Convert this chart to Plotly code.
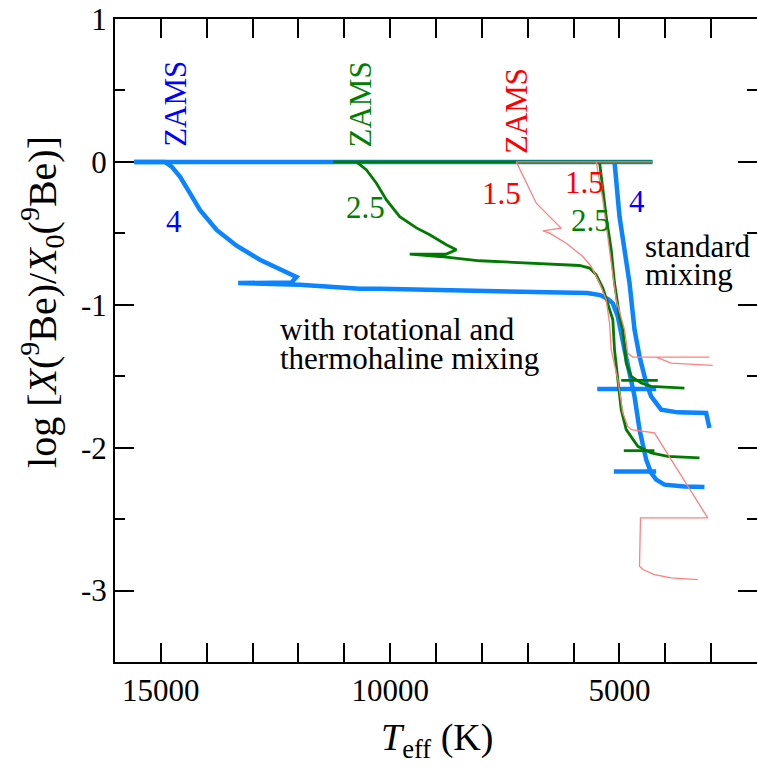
import plotly.graph_objects as go

# ---------------- data (Teff in K, log X/X0) ----------------
# 4 Msun, rotational + thermohaline mixing
b4r_T = [15580, 14911, 14765, 14584, 14366, 14148, 13784, 13349, 12841, 12405, 12042, 12150,
         13314, 11970, 10662, 10227, 8048, 5700, 5420, 5250, 5144, 5035, 4889, 4780, 4671,
         4562, 4490, 4416, 4308, 4199, 4018, 3582, 3146]
b4r_L = [0, 0, -0.033, -0.103, -0.219, -0.336, -0.476, -0.587, -0.685, -0.755, -0.806, -0.844,
         -0.848, -0.860, -0.888, -0.888, -0.900, -0.918, -0.932, -0.960, -0.990, -1.082, -1.315,
         -1.490, -1.641, -1.874, -1.965, -2.084, -2.177, -2.224, -2.259, -2.271, -2.275]
b4r_loop_T = [5122, 4199]
b4r_loop_L = [-2.166, -2.166]

# 4 Msun, standard mixing
b4s_T = [15580, 4279, 5107, 4998, 4780, 4671, 4562, 4416, 4308, 4090, 3728, 3109, 3037]
b4s_L = [0, 0, 0, -0.383, -0.848, -1.175, -1.362, -1.548, -1.641, -1.734, -1.753, -1.757, -1.862]
b4s_loop_T = [5484, 4199]
b4s_loop_L = [-1.590, -1.590]

# 2.5 Msun, rotational + thermohaline mixing
g25r_T = [10734, 10516, 10299, 10081, 9791, 9427, 9137, 8774, 8556, 8774, 9573, 8920, 8048,
          6959, 5870, 5652, 5506, 5362, 5216, 5144, 5107, 5035, 4961, 4852, 4708, 4599, 4308,
          3946, 3255]
g25r_L = [0, -0.056, -0.149, -0.266, -0.383, -0.462, -0.510, -0.580, -0.615, -0.645, -0.645,
          -0.662, -0.692, -0.708, -0.725, -0.743, -0.790, -0.883, -1.023, -1.105, -1.315, -1.524,
          -1.734, -1.874, -1.944, -1.991, -2.037, -2.061, -2.072]
g25r_loop_T = [4904, 4236]
g25r_loop_L = [-2.021, -2.021]

# 2.5 Msun, standard mixing
g25s_T = [11244, 4279, 5434, 5288, 5179, 5107, 4998, 4926, 4852, 4743, 4525, 4308, 3582]
g25s_L = [0, 0, 0, -0.383, -0.615, -0.848, -1.082, -1.175, -1.408, -1.501, -1.548, -1.571, -1.583]
g25s_loop_T = [4961, 4164]
g25s_loop_L = [-1.529, -1.529]

# 1.5 Msun, rotational + thermohaline mixing
r15r_T = [7249, 7031, 6813, 6523, 6268, 6669, 6523, 6159, 5798, 5615, 5434, 5288, 5216, 5179,
          5035, 4926, 4817, 4743, 4236, 3074, 4541, 4562, 4490, 4236, 3872, 3292]
r15r_L = [0, -0.149, -0.289, -0.383, -0.464, -0.483, -0.499, -0.569, -0.662, -0.732, -0.848,
          -0.965, -1.128, -1.315, -1.524, -1.757, -1.851, -1.874, -1.897, -2.492, -2.492, -2.830,
          -2.853, -2.888, -2.911, -2.923]

# 1.5 Msun, standard mixing
r15s_T = [7249, 4279, 5506, 5362, 5216, 5070, 4889, 4817, 4715, 3037, 4199, 3872, 2966]
r15s_L = [0, 0, 0, -0.266, -0.615, -0.965, -1.175, -1.338, -1.366, -1.366, -1.366, -1.408, -1.424]

x_range = [16000, 2000]
x_ticks = [15000, 10000, 5000]
x_ticktext = ["15000", "10000", "5000"]
y_range = [-3.5, 1]
y_ticks = [-3, -2, -1, 0, 1]
y_ticktext = ["-3", "-2", "-1", "0", "1"]
y_minor = [-3.5, -2.5, -1.5, -0.5, 0.5]

BLUE = "#0a84ff"
GREEN = "#007a00"
PINK = "#ff8080"
FONT = "Liberation Serif, Times New Roman, serif"

fig = go.Figure()


def add(xs, ys, color, width):
    fig.add_trace(go.Scatter(x=xs, y=ys, mode="lines",
                             line=dict(color=color, width=width),
                             showlegend=False, hoverinfo="skip"))


add(b4s_T, b4s_L, BLUE, 4.5)
add(b4s_loop_T, b4s_loop_L, BLUE, 4.5)
add(b4r_T, b4r_L, BLUE, 4.5)
add(b4r_loop_T, b4r_loop_L, BLUE, 4.5)
add(g25s_T, g25s_L, GREEN, 2.8)
add(g25s_loop_T, g25s_loop_L, GREEN, 2.8)
add(g25r_T, g25r_L, GREEN, 2.8)
add(g25r_loop_T, g25r_loop_L, GREEN, 2.8)
add(r15s_T, r15s_L, PINK, 1.3)
add(r15r_T, r15r_L, PINK, 1.3)

# dummy trace for right-hand tick axis
fig.add_trace(go.Scatter(x=[None], y=[None], yaxis="y2", showlegend=False, hoverinfo="skip"))

# ---------------- annotations ----------------
def note(text, x, y, color, size=31, angle=0, xanchor="center"):
    fig.add_annotation(text=text, x=x, y=y, xref="x", yref="y", showarrow=False,
                       textangle=angle, xanchor=xanchor, yanchor="middle",
                       font=dict(family=FONT, size=size, color=color))


note("ZAMS", 14671, 0.406, "#0000ff", angle=-90)
note("ZAMS", 10645, 0.399, "#008000", angle=-90)
note("ZAMS", 7249, 0.358, "#ff0000", angle=-90)
note("4", 14710, -0.417, "#0000ff")
note("2.5", 10536, -0.317, "#008000")
note("1.5", 7562, -0.224, "#ff0000")
note("1.5", 5761, -0.142, "#ff0000")
note("2.5", 5636, -0.410, "#008000")
note("4", 4621, -0.278, "#0000ff")
note("standard", 4490, -0.595, "black", xanchor="left")
note("mixing", 4490, -0.785, "black", xanchor="left")
note("with rotational and", 12449, -1.175, "black", xanchor="left")
note("thermohaline mixing", 12449, -1.378, "black", xanchor="left")

fig.add_annotation(text="log [<i>X</i>(<sup>9</sup>Be)/<i>X</i><sub>0</sub>(<sup>9</sup>Be)]",
                   x=-0.1137, y=0.56, xref="paper", yref="paper", showarrow=False,
                   textangle=-90, xanchor="center", yanchor="middle",
                   font=dict(family=FONT, size=40, color="black"))
fig.add_annotation(text="<i>T</i><sub>eff</sub> (K)",
                   x=0.5016, y=-0.1213, xref="paper", yref="paper", showarrow=False,
                   xanchor="center", yanchor="middle",
                   font=dict(family=FONT, size=38, color="black"))

# ---------------- layout ----------------
fig.update_layout(
    width=757, height=767,
    margin=dict(l=115, r=0, t=19, b=105),
    paper_bgcolor="white", plot_bgcolor="white",
    font=dict(family=FONT, size=31, color="black"),
    showlegend=False,
    xaxis=dict(range=x_range, showgrid=False, zeroline=False,
               showline=True, linecolor="black", linewidth=2, mirror="allticks",
               ticks="inside", ticklen=19, tickwidth=2, tickcolor="black",
               tickmode="array", tickvals=x_ticks, ticktext=x_ticktext,
               minor=dict(ticks="inside", ticklen=10, tickwidth=1.6, tickcolor="black",
                          tickmode="linear", tick0=0, dtick=1000),
               tickfont=dict(family=FONT, size=31, color="black")),
    yaxis=dict(range=y_range, showgrid=False, zeroline=False,
               showline=True, linecolor="black", linewidth=2,
               ticks="inside", ticklen=19, tickwidth=2, tickcolor="black",
               tickmode="array", tickvals=y_ticks, ticktext=y_ticktext,
               minor=dict(ticks="inside", ticklen=10, tickwidth=1.6, tickcolor="black",
                          tickmode="array", tickvals=y_minor),
               tickfont=dict(family=FONT, size=31, color="black")),
    yaxis2=dict(range=y_range, overlaying="y", side="right", anchor="x",
                showgrid=False, zeroline=False, showline=False, showticklabels=False,
                ticks="inside", ticklen=19, tickwidth=2, tickcolor="black",
                tickmode="array", tickvals=y_ticks,
                minor=dict(ticks="inside", ticklen=10, tickwidth=1.6, tickcolor="black",
                           tickmode="array", tickvals=y_minor)),
)

fig.write_html("out.html")
